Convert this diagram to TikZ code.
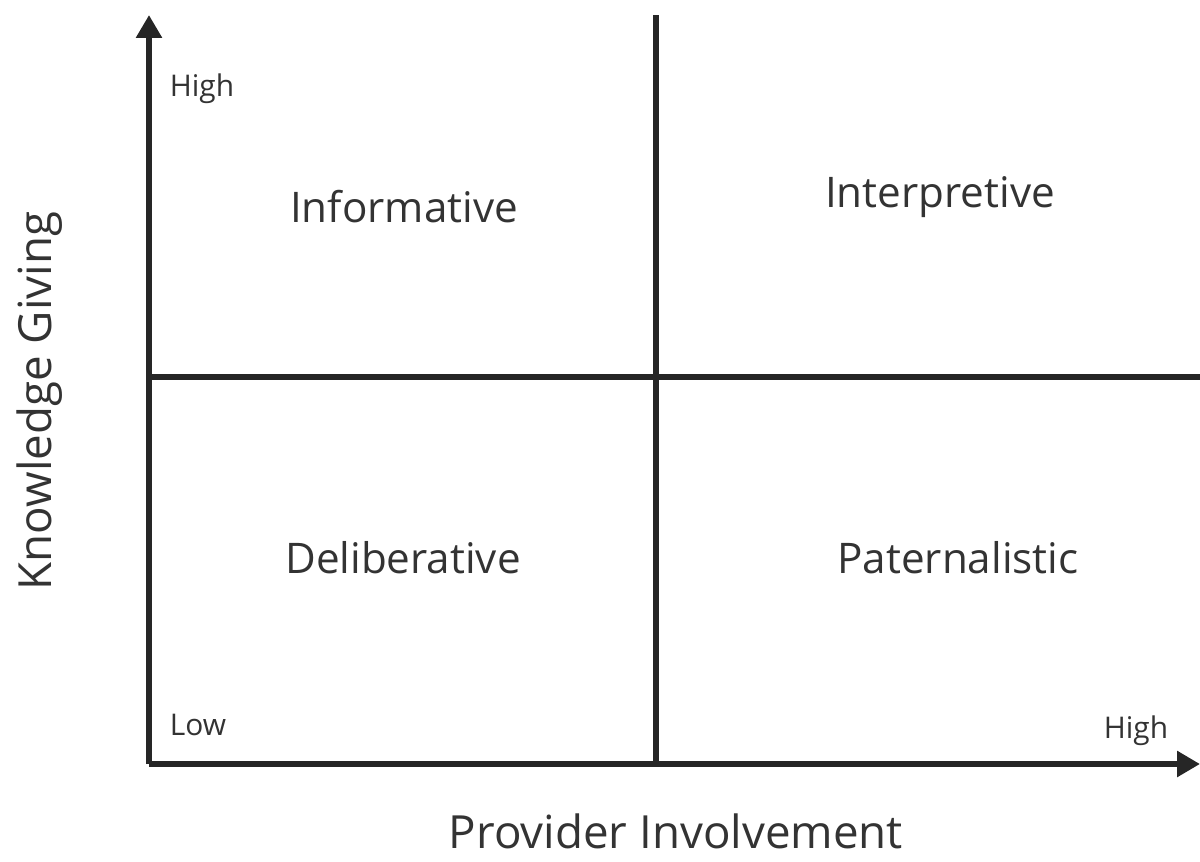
\documentclass[tikz,border=0pt]{standalone}
\usepackage{fontspec}
\setmainfont{Open Sans}
\usepackage{tikz}
\usetikzlibrary{arrows.meta}

\begin{document}
\begin{tikzpicture}
        \useasboundingbox (0,0) rectangle (24,17.22);
        \tikzset{axis/.style={line width=3.6pt,color=black!85},
                 quad/.style={text=black!80,font=\fontsize{24}{28}\selectfont},
                 tick/.style={text=black!80,font=\fontsize{17}{20}\selectfont}}
        \coordinate (o) at (2.98,1.94);
        \coordinate (ytop) at (2.98,16.92);
        \coordinate (xend) at (24,1.94);
        \coordinate (midl) at (2.98,9.68);
        \coordinate (midr) at (24,9.68);
        \coordinate (divt) at (13.12,16.92);
        \coordinate (divb) at (13.12,1.94);
        \draw[axis,-{Triangle[length=0.46cm,width=0.5cm]}] (o) -- (ytop);
        \draw[axis,-{Triangle[length=0.46cm,width=0.5cm]}] (o) -- (xend);
        \draw[axis] (midl) -- (midr);
        \draw[axis] (divb) -- (divt);
        \node[quad] (inf) at (8.08,13.09) {Informative};
        \node[quad] (int) at (18.8,13.28) {Interpretive};
        \node[quad] (del) at (8.06,6.06) {Deliberative};
        \node[quad] (pat) at (19.16,6.06) {Paternalistic};
        \node[tick] (yhi) at (4.04,15.44) {High};
        \node[tick] (ylo) at (3.96,2.72) {Low};
        \node[tick] (xhi) at (22.72,2.6) {High};
        \node[quad,font=\fontsize{26}{30}\selectfont,rotate=90] (ylab) at (0.8,9.2) {Knowledge Giving};
        \node[quad,font=\fontsize{26}{30}\selectfont,inner sep=0pt] (xlab) at (13.52,0.6) {Provider Involvement};
\end{tikzpicture}
\end{document}
